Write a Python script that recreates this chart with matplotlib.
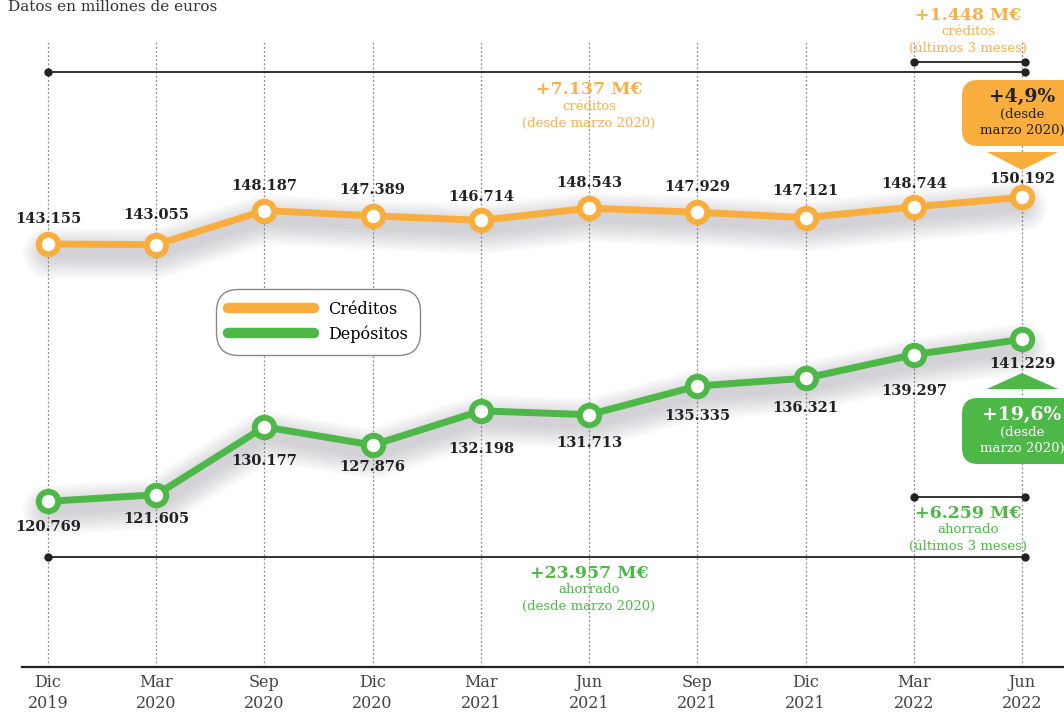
import matplotlib
matplotlib.use('Agg')
import matplotlib.pyplot as plt
from matplotlib import transforms
from matplotlib.patches import FancyBboxPatch, Polygon
from matplotlib.lines import Line2D

# datos (millones de euros)
periodos = ['Dic\n2019', 'Mar\n2020', 'Sep\n2020', 'Dic\n2020', 'Mar\n2021',
            'Jun\n2021', 'Sep\n2021', 'Dic\n2021', 'Mar\n2022', 'Jun\n2022']
creditos = [143.155, 143.055, 148.187, 147.389, 146.714, 148.543, 147.929, 147.121, 148.744, 150.192]
depositos = [120.769, 121.605, 130.177, 127.876, 132.198, 131.713, 135.335, 136.321, 139.297, 141.229]

NARANJA = '#F9AD3C'
VERDE = '#4DB748'
W, H = 1064, 715

plt.rcParams['font.family'] = ['DejaVu Serif']

fig = plt.figure(figsize=(W / 100, H / 100), dpi=100)
ax = fig.add_axes([0, 0, 1, 1])
ax2 = ax.twinx()
for a in (ax, ax2):
    a.axis('off')
    a.patch.set_alpha(0)
ax.set_xlim(-0.4435, 9.388)
ax.set_ylim(72.22, 179.90)     # escala créditos
ax2.set_ylim(93.80, 184.07)    # escala depósitos

# coordenadas en pixeles desde arriba (para rótulos y cajas)
PX = transforms.Affine2D().scale(1, -1).translate(0, H)
xs = list(range(len(periodos)))
xt = ax.get_xaxis_transform()

# rejilla punteada y eje
ax.vlines(xs, 1 - 667 / H, 1 - 40 / H, transform=xt, color='#8a8a8a', lw=0.9, linestyle=(0, (1.5, 1.8)))
fig.add_artist(Line2D([22, W], [667, 667], transform=PX, color='#222222', lw=1.6))
for i, p in enumerate(periodos):
    ax.text(i, 1 - 674 / H, p, transform=xt, ha='center', va='top', fontsize=11.5,
            color='#444444', linespacing=1.3)

fig.text(8, 14, 'Datos en millones de euros', transform=PX, fontsize=11, color='#333333', va='bottom')


def serie(a, vals, color, offs, arriba):
    # sombra difusa bajo la línea
    sombra = transforms.offset_copy(a.transData, fig=fig, x=0, y=-9, units='dots')
    for lw in range(36, 4, -4):
        a.plot(xs, vals, color='#5c5c6e', lw=lw, alpha=0.035, transform=sombra, solid_capstyle='round')
    a.plot(xs, vals, color=color, lw=5, marker='o', ms=14, mfc='white', mec=color, mew=4.3,
           solid_capstyle='round')
    for i, v in enumerate(vals):
        dy = offs[i] * 0.72 * (1 if arriba else -1)
        a.annotate(f'{v:.3f}', (i, v), xytext=(0, dy), textcoords='offset points',
                   ha='center', va='center', fontsize=10.5, fontweight='bold', color='#222222')


serie(ax, creditos, NARANJA, [25, 30, 25, 26, 23, 25, 25, 27, 23, 18], True)
serie(ax2, depositos, VERDE, [26, 24, 34, 22, 38, 28, 30, 30, 36, 25], False)

# leyenda
handles = [Line2D([], [], color=NARANJA, lw=7.5, solid_capstyle='round'),
           Line2D([], [], color=VERDE, lw=7.5, solid_capstyle='round')]
leg = ax2.legend(handles, ['Créditos', 'Depósitos'], loc='upper left',
                 bbox_to_anchor=(216 / W, 1 - 289 / H), bbox_transform=fig.transFigure,
                 borderaxespad=0, fontsize=11.5, handlelength=5.4, handletextpad=0.9,
                 labelspacing=0.45, borderpad=0.75, framealpha=1)
leg.get_frame().set_edgecolor('#888888')
leg.get_frame().set_linewidth(1)
leg.get_frame().set_boxstyle('round,pad=0,rounding_size=1.4')


def corchete(x0, x1, y):
    ax.plot([x0, x1], [1 - y / H] * 2, transform=xt, color='#222222', lw=1.3,
            marker='o', ms=5)


def rotulo(xc, y, lineas, color):
    tam = [12.5, 9.5, 9.5]
    pesos = ['bold', 'normal', 'normal']
    for k, s in enumerate(lineas):
        ax.text(xc, 1 - (y + k * 16.5) / H, s, transform=xt, ha='center', va='center',
                fontsize=tam[k], fontweight=pesos[k], color=color)


corchete(0, 9.03, 72)
rotulo(5, 90, ['+7.137 M€', 'créditos', '(desde marzo 2020)'], '#F8B04A')
corchete(8, 9.03, 62)
rotulo(8.5, 15, ['+1.448 M€', 'créditos', '(últimos 3 meses)'], '#F8B04A')
corchete(8, 9.03, 497)
rotulo(8.5, 513, ['+6.259 M€', 'ahorrado', '(últimos 3 meses)'], VERDE)
corchete(0, 9.03, 557)
rotulo(5, 573, ['+23.957 M€', 'ahorrado', '(desde marzo 2020)'], VERDE)

# cajas de variación
for y0, color, txtc, tri, textos in [
        (80, NARANJA, '#222222', [(987, 152), (1058, 152), (1022, 170)], ['+4,9%', '(desde', 'marzo 2020)']),
        (398, VERDE, 'white', [(987, 389), (1058, 389), (1022, 373)], ['+19,6%', '(desde', 'marzo 2020)'])]:
    fig.add_artist(FancyBboxPatch((962, y0), 130, 66, boxstyle='round,pad=0,rounding_size=16',
                                  transform=PX, facecolor=color, edgecolor='none'))
    fig.add_artist(Polygon(tri, closed=True, transform=PX, facecolor=color, edgecolor='none'))
    fig.text(1022, y0 + 17, textos[0], transform=PX, ha='center', va='center',
             fontsize=13.5, fontweight='bold', color=txtc)
    fig.text(1022, y0 + 34, textos[1], transform=PX, ha='center', va='center', fontsize=9.5, color=txtc)
    fig.text(1022, y0 + 50, textos[2], transform=PX, ha='center', va='center', fontsize=9.5, color=txtc)

fig.savefig('out.png', dpi=100)
